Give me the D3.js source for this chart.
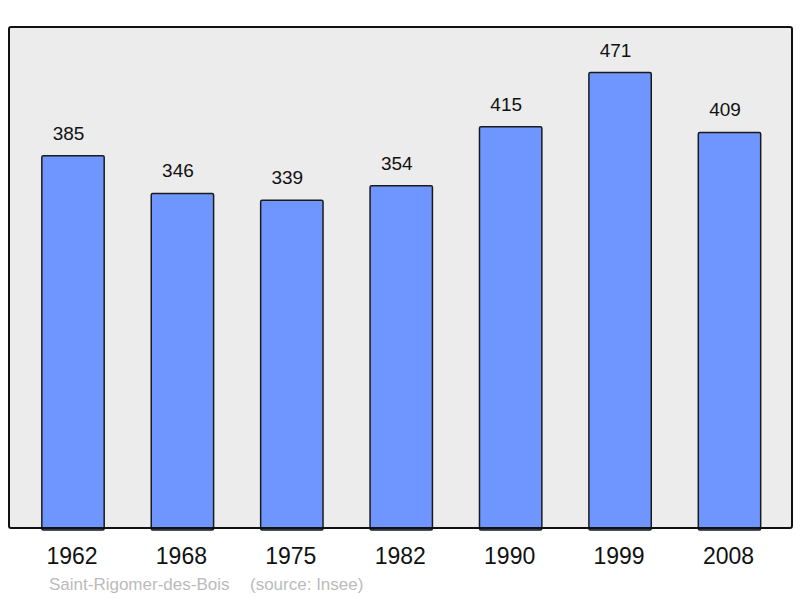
<!DOCTYPE html>
<html>
<head>
<meta charset="utf-8">
<script src="https://cdn.jsdelivr.net/npm/d3@7"></script>
<style>
  body { margin: 0; background: #fff; }
  svg { display: block; font-family: "Liberation Sans", Arial, sans-serif; }
</style>
</head>
<body>
<div id="chart"></div>
<script>
var years = ["1962", "1968", "1975", "1982", "1990", "1999", "2008"];
var population = [385, 346, 339, 354, 415, 471, 409];
var commune = "Saint-Rigomer-des-Bois";
var source = "(source: Insee)";

var width = 800, height = 598;
var frame = { left: 9, top: 27, right: 792, bottom: 528 };

var svg = d3.select("#chart").append("svg")
  .attr("width", width)
  .attr("height", height);

var x = d3.scaleBand()
  .domain(years)
  .range([18.3, 784.2])
  .paddingInner(0.43)
  .paddingOuter(0.215);

var y = d3.scaleLinear()
  .domain([0, d3.max(population) * 1.1])
  .range([frame.bottom, frame.top]);

// background frame
svg.append("rect")
  .attr("x", frame.left)
  .attr("y", frame.top)
  .attr("width", frame.right - frame.left)
  .attr("height", frame.bottom - frame.top)
  .attr("rx", 2)
  .attr("fill", "#ececec")
  .attr("stroke", "none");

svg.selectAll(".bar")
  .data(population)
  .enter().append("rect")
  .attr("class", "bar")
  .attr("x", function(d, i) { return x(years[i]); })
  .attr("y", function(d) { return y(d); })
  .attr("width", x.bandwidth())
  .attr("height", function(d) { return y(0) - y(d) + 2; })
  .attr("rx", 1.5)
  .attr("fill", "#6f96ff")
  .attr("stroke", "#1a1a1a")
  .attr("stroke-width", 1.5);

// frame border on top of bars
svg.append("rect")
  .attr("x", frame.left)
  .attr("y", frame.top)
  .attr("width", frame.right - frame.left)
  .attr("height", frame.bottom - frame.top)
  .attr("rx", 2)
  .attr("fill", "none")
  .attr("stroke", "#111")
  .attr("stroke-width", 2);

// value labels sit a little left of the bar centre
svg.selectAll(".val")
  .data(population)
  .enter().append("text")
  .attr("class", "val")
  .attr("x", function(d, i) { return x(years[i]) + x.bandwidth() / 2 - 4.5; })
  .attr("y", function(d) { return y(d) - 16; })
  .attr("text-anchor", "middle")
  .attr("font-size", 19)
  .attr("fill", "#111")
  .text(function(d) { return d; });

svg.selectAll(".year")
  .data(years)
  .enter().append("text")
  .attr("class", "year")
  .attr("x", function(d) { return x(d) + x.bandwidth() / 2 - 1; })
  .attr("y", 564)
  .attr("text-anchor", "middle")
  .attr("font-size", 23)
  .attr("fill", "#111")
  .text(function(d) { return d; });

svg.append("text")
  .attr("x", 49)
  .attr("y", 590)
  .attr("font-size", 17)
  .attr("fill", "#bbbbbb")
  .text(commune);

svg.append("text")
  .attr("x", 250)
  .attr("y", 590)
  .attr("font-size", 17)
  .attr("fill", "#bbbbbb")
  .text(source);
</script>
</body>
</html>
